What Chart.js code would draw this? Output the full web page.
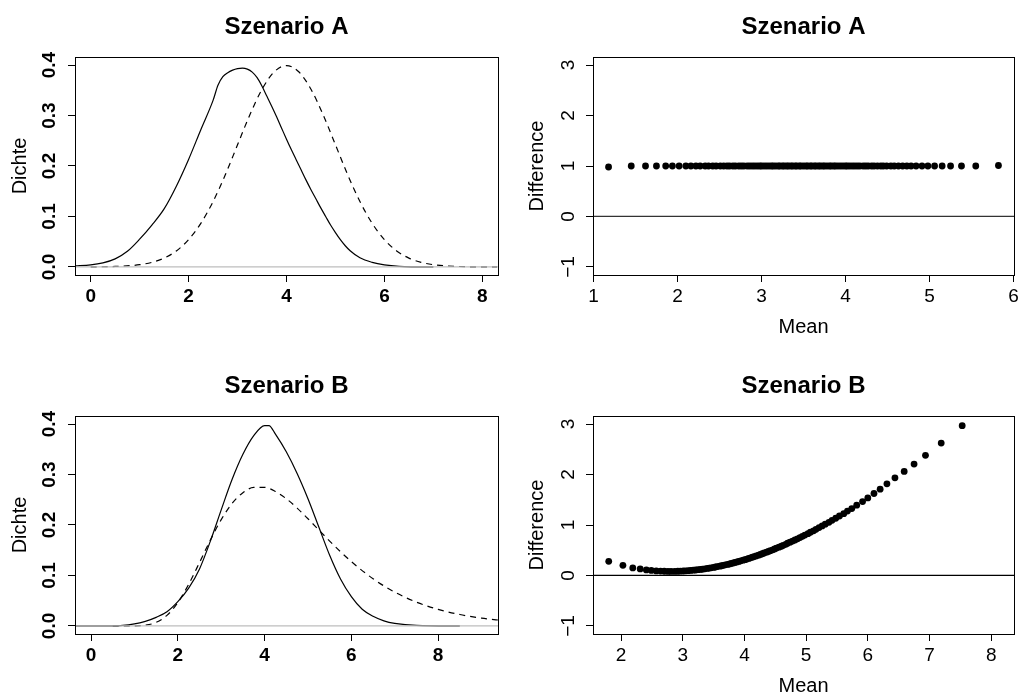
<!DOCTYPE html>
<html>
<head>
<meta charset="utf-8">
<title>Szenario A / Szenario B</title>
<script src="https://cdn.jsdelivr.net/npm/chart.js@4.4.0/dist/chart.umd.min.js"></script>
<style>
  html, body { margin: 0; padding: 0; background: #fff; }
  body { width: 1018px; height: 695px; position: relative; overflow: hidden; }
  canvas { position: absolute; }
  #densA { left: 0; top: 0; }
  #baA { left: 509px; top: 0; }
  #densB { left: 0; top: 359px; }
  #baB { left: 509px; top: 359px; }
</style>
</head>
<body>
<canvas id="densA" width="509" height="348"></canvas>
<canvas id="baA" width="509" height="348"></canvas>
<canvas id="densB" width="509" height="348"></canvas>
<canvas id="baB" width="509" height="348"></canvas>

<script>
// ---- data ----

// Szenario A, density plot
const densTicksA = [0, 2, 4, 6, 8];
const densYTicks = [0, 0.1, 0.2, 0.3, 0.4];
const aSolidX = [-0.33, 0, 0.25, 0.5, 0.75, 1.0, 1.25, 1.5, 1.75, 2.0, 2.25, 2.5, 2.6, 2.7, 2.8, 2.9, 3.0, 3.1, 3.2, 3.3, 3.4, 3.5, 3.6, 3.7, 3.8, 3.9, 4.0, 4.1, 4.2, 4.3, 4.4, 4.5, 4.6, 4.7, 4.8, 4.9, 5.0, 5.1, 5.2, 5.3, 5.5, 5.75, 6.0, 6.3, 6.6, 7.0];
const aSolidY = [0.002, 0.004, 0.008, 0.016, 0.031, 0.055, 0.083, 0.115, 0.16, 0.213, 0.272, 0.33, 0.36, 0.377, 0.385, 0.39, 0.393, 0.394, 0.392, 0.386, 0.375, 0.358, 0.338, 0.318, 0.297, 0.275, 0.253, 0.232, 0.212, 0.192, 0.172, 0.153, 0.135, 0.117, 0.1, 0.083, 0.068, 0.054, 0.042, 0.032, 0.018, 0.009, 0.004, 0.001, 0.0002, 0];
const aDashX = [0, 0.5, 1, 1.25, 1.5, 1.75, 2, 2.25, 2.5, 2.75, 3, 3.25, 3.5, 3.75, 4, 4.25, 4.5, 4.75, 5, 5.25, 5.5, 5.75, 6, 6.25, 6.5, 6.75, 7, 7.5, 8, 8.3];
const aDashY = [0.0001, 0.0009, 0.0044, 0.0091, 0.0175, 0.0317, 0.054, 0.0863, 0.1295, 0.1826, 0.242, 0.3011, 0.3521, 0.3867, 0.3989, 0.3867, 0.3521, 0.3011, 0.242, 0.1826, 0.1295, 0.0863, 0.054, 0.0317, 0.0175, 0.0091, 0.0044, 0.0009, 0.0001, 0.00003];

// Szenario B, density plot
const densTicksB = [0, 2, 4, 6, 8];
const bSolidX = [-0.37, 0.5, 1.0, 1.25, 1.5, 1.75, 2.0, 2.25, 2.5, 2.75, 3.0, 3.25, 3.5, 3.75, 4.0, 4.1, 4.25, 4.5, 4.75, 5.0, 5.25, 5.5, 5.75, 6.0, 6.25, 6.5, 6.75, 7.0, 7.5, 8.5];
const bSolidY = [0, 0, 0.004, 0.009, 0.017, 0.028, 0.048, 0.075, 0.113, 0.168, 0.23, 0.29, 0.34, 0.377, 0.397, 0.397, 0.38, 0.345, 0.302, 0.252, 0.196, 0.14, 0.093, 0.058, 0.033, 0.019, 0.01, 0.005, 0.001, 0];
const bDashX = [0.5, 1.0, 1.25, 1.5, 1.75, 2.0, 2.25, 2.5, 2.75, 3.0, 3.25, 3.5, 3.75, 4.0, 4.25, 4.5, 4.75, 5.0, 5.25, 5.5, 5.75, 6.0, 6.5, 7.0, 7.5, 8.0, 8.5, 9.0, 9.5];
const bDashY = [0, 0.0002, 0.0015, 0.007, 0.0209, 0.0462, 0.0824, 0.1256, 0.1702, 0.2106, 0.2426, 0.264, 0.2744, 0.2746, 0.2665, 0.2521, 0.2335, 0.2123, 0.1902, 0.1682, 0.147, 0.1274, 0.0935, 0.067, 0.0472, 0.0328, 0.0226, 0.0155, 0.0106];

// Szenario A, mean / difference
const baTicksA = [1, 2, 3, 4, 5, 6];
const baYTicks = [-1, 0, 1, 2, 3];
const aMean = [1.18, 1.45, 1.62, 1.75, 1.86, 1.94, 2.02, 2.10, 2.16, 2.22, 2.27, 2.33, 2.37, 2.42, 2.46, 2.51, 2.55, 2.59, 2.62, 2.66, 2.69, 2.73, 2.76, 2.79, 2.83, 2.86, 2.89, 2.92, 2.95, 2.98, 3.00, 3.03, 3.06, 3.09, 3.12, 3.14, 3.17, 3.20, 3.22, 3.25, 3.27, 3.30, 3.32, 3.35, 3.37, 3.40, 3.42, 3.45, 3.47, 3.50, 3.53, 3.55, 3.58, 3.60, 3.63, 3.65, 3.68, 3.70, 3.73, 3.75, 3.78, 3.81, 3.83, 3.86, 3.88, 3.91, 3.94, 3.97, 4.00, 4.02, 4.05, 4.08, 4.11, 4.14, 4.17, 4.21, 4.24, 4.27, 4.31, 4.34, 4.38, 4.42, 4.45, 4.49, 4.54, 4.58, 4.63, 4.68, 4.73, 4.78, 4.84, 4.91, 4.98, 5.06, 5.15, 5.25, 5.38, 5.55, 5.82];
const aDiff = [0.98, 1.0, 1.0, 1.0, 1.0, 1.0, 1.0, 1.0, 1.0, 1.0, 1.0, 1.0, 1.0, 1.0, 1.0, 1.0, 1.0, 1.0, 1.0, 1.0, 1.0, 1.0, 1.0, 1.0, 1.0, 1.0, 1.0, 1.0, 1.0, 1.0, 1.0, 1.0, 1.0, 1.0, 1.0, 1.0, 1.0, 1.0, 1.0, 1.0, 1.0, 1.0, 1.0, 1.0, 1.0, 1.0, 1.0, 1.0, 1.0, 1.0, 1.0, 1.0, 1.0, 1.0, 1.0, 1.0, 1.0, 1.0, 1.0, 1.0, 1.0, 1.0, 1.0, 1.0, 1.0, 1.0, 1.0, 1.0, 1.0, 1.0, 1.0, 1.0, 1.0, 1.0, 1.0, 1.0, 1.0, 1.0, 1.0, 1.0, 1.0, 1.0, 1.0, 1.0, 1.0, 1.0, 1.0, 1.0, 1.0, 1.0, 1.0, 1.0, 1.0, 1.0, 1.0, 1.0, 1.0, 1.0, 1.01];

// Szenario B, mean / difference
const baTicksB = [2, 3, 4, 5, 6, 7, 8];
const bMean = [1.80, 2.03, 2.19, 2.31, 2.41, 2.49, 2.57, 2.64, 2.70, 2.76, 2.81, 2.87, 2.92, 2.96, 3.01, 3.05, 3.09, 3.13, 3.17, 3.21, 3.25, 3.29, 3.32, 3.36, 3.40, 3.43, 3.46, 3.50, 3.53, 3.56, 3.60, 3.63, 3.66, 3.69, 3.73, 3.76, 3.79, 3.82, 3.85, 3.88, 3.91, 3.94, 3.98, 4.01, 4.04, 4.07, 4.10, 4.13, 4.16, 4.19, 4.23, 4.26, 4.29, 4.32, 4.36, 4.39, 4.42, 4.46, 4.49, 4.52, 4.56, 4.60, 4.63, 4.67, 4.70, 4.74, 4.78, 4.82, 4.86, 4.90, 4.94, 4.98, 5.03, 5.07, 5.12, 5.16, 5.21, 5.26, 5.31, 5.37, 5.42, 5.48, 5.54, 5.61, 5.67, 5.74, 5.82, 5.915, 6.0, 6.10, 6.20, 6.31, 6.44, 6.59, 6.75, 6.935, 7.19, 7.53];
const bDiff = [0.28, 0.20, 0.15, 0.13, 0.11, 0.10, 0.09, 0.086, 0.083, 0.081, 0.081, 0.081, 0.083, 0.085, 0.088, 0.091, 0.095, 0.099, 0.104, 0.108, 0.114, 0.120, 0.125, 0.132, 0.139, 0.146, 0.152, 0.160, 0.168, 0.176, 0.184, 0.192, 0.201, 0.210, 0.219, 0.228, 0.238, 0.248, 0.259, 0.269, 0.279, 0.290, 0.302, 0.313, 0.325, 0.337, 0.349, 0.362, 0.375, 0.388, 0.402, 0.416, 0.430, 0.445, 0.461, 0.476, 0.492, 0.508, 0.526, 0.543, 0.560, 0.579, 0.598, 0.618, 0.638, 0.659, 0.681, 0.703, 0.726, 0.750, 0.775, 0.801, 0.828, 0.856, 0.885, 0.915, 0.948, 0.981, 1.016, 1.054, 1.093, 1.134, 1.178, 1.225, 1.275, 1.326, 1.392, 1.465, 1.537, 1.624, 1.71, 1.815, 1.934, 2.062, 2.207, 2.38, 2.624, 2.968];

// axis limits (R style, range + 4%)
const limDensA = { xMin: -0.32, xMax: 8.32, yMin: -0.016, yMax: 0.416 };
const limDensB = { xMin: -0.37, xMax: 9.38, yMin: -0.016, yMax: 0.416 };
const limBaA = { xMin: 0.995, xMax: 6.005, yMin: -1.16, yMax: 3.16 };
const limBaB = { xMin: 1.545, xMax: 8.37, yMin: -1.16, yMax: 3.16 };

// ---- drawing ----
Chart.defaults.font.family = '"Liberation Sans", Arial, Helvetica, sans-serif';
Chart.defaults.color = '#000';

function zip(xs, ys) {
  return xs.map((x, i) => ({ x: x, y: ys[i] }));
}

// R draws a full box around the plot region
const boxPlugin = {
  id: 'rbox',
  afterDraw(chart) {
    const a = chart.chartArea;
    const ctx = chart.ctx;
    ctx.save();
    ctx.strokeStyle = '#000';
    ctx.lineWidth = 1;
    ctx.strokeRect(Math.round(a.left) + 0.5, Math.round(a.top) + 0.5,
      Math.round(a.right - a.left), Math.round(a.bottom - a.top));
    ctx.restore();
  }
};

function lineSet(points, opts) {
  return Object.assign({
    data: points,
    showLine: true,
    pointRadius: 0,
    borderColor: '#000',
    borderWidth: 1.2,
    fill: false,
    cubicInterpolationMode: 'monotone'
  }, opts);
}

function hLine(lim, color, order) {
  return lineSet([{ x: lim.xMin, y: 0 }, { x: lim.xMax, y: 0 }],
    { borderColor: color, borderWidth: 1.3, order: order, cubicInterpolationMode: 'default', tension: 0 });
}

function makePanel(id, cfg) {
  const tickFont = { size: 19, weight: cfg.bold ? 'bold' : 'normal' };
  new Chart(document.getElementById(id), {
    type: 'scatter',
    data: { datasets: cfg.datasets },
    options: {
      responsive: false,
      animation: false,
      events: [],
      layout: { padding: { left: 0, top: 0, bottom: 0, right: cfg.padRight } },
      plugins: {
        legend: { display: false },
        tooltip: { enabled: false },
        title: {
          display: true,
          fullSize: false,
          text: cfg.title,
          color: '#000',
          font: { size: 24, weight: 'bold' },
          padding: { top: 13, bottom: 15.2 }
        }
      },
      scales: {
        x: {
          type: 'linear',
          min: cfg.lim.xMin,
          max: cfg.lim.xMax,
          afterBuildTicks: s => { s.ticks = cfg.xTicks.map(v => ({ value: v })); },
          afterFit: s => { s.height = 73; s.paddingLeft = 0; s.paddingRight = 0; },
          grid: { display: true, drawOnChartArea: false, drawTicks: true, tickLength: 7, color: '#000', lineWidth: 1 },
          border: { display: false },
          ticks: { autoSkip: false, maxRotation: 0, padding: 3, color: '#000', font: tickFont, callback: v => String(v) },
          title: { display: !!cfg.xTitle, text: cfg.xTitle || '', color: '#000', font: { size: 20 }, padding: { top: 0, bottom: 9 } }
        },
        y: {
          type: 'linear',
          min: cfg.lim.yMin,
          max: cfg.lim.yMax,
          afterBuildTicks: s => { s.ticks = cfg.yTicks.map(v => ({ value: v })); },
          afterFit: s => { s.width = cfg.yWidth; s.paddingTop = 0; s.paddingBottom = 0; },
          grid: { display: true, drawOnChartArea: false, drawTicks: true, tickLength: 7, color: '#000', lineWidth: 1 },
          border: { display: false },
          ticks: {
            autoSkip: false, minRotation: 90, maxRotation: 90, crossAlign: 'center',
            padding: cfg.yTickPad, color: '#000', font: tickFont, callback: cfg.yFmt
          },
          title: { display: true, text: cfg.yTitle, color: '#000', font: { size: 20 }, padding: { top: cfg.yTitlePad, bottom: 0 } }
        }
      }
    },
    plugins: [boxPlugin]
  });
}

const fmtDens = v => v.toFixed(1);
const fmtDiff = v => (v < 0 ? '\u2212' + Math.abs(v) : String(v));

makePanel('densA', {
  title: 'Szenario A', yTitle: 'Dichte', bold: true, lim: limDensA,
  xTicks: densTicksA, yTicks: densYTicks, yFmt: fmtDens,
  yWidth: 75, padRight: 11, yTickPad: 5, yTitlePad: 8,
  datasets: [
    hLine(limDensA, '#bebebe', 0),
    lineSet(zip(aSolidX, aSolidY), { order: 1 }),
    lineSet(zip(aDashX, aDashY), { order: 2, borderDash: [6, 5] })
  ]
});

makePanel('baA', {
  title: 'Szenario A', yTitle: 'Difference', xTitle: 'Mean', bold: false, lim: limBaA,
  xTicks: baTicksA, yTicks: baYTicks, yFmt: fmtDiff,
  yWidth: 84, padRight: 2, yTickPad: 6.5, yTitlePad: 16,
  datasets: [
    { data: zip(aMean, aDiff), pointRadius: 3.4, backgroundColor: '#000', borderWidth: 0, showLine: false, order: 0 },
    hLine(limBaA, '#333', 1)
  ]
});

makePanel('densB', {
  title: 'Szenario B', yTitle: 'Dichte', bold: true, lim: limDensB,
  xTicks: densTicksB, yTicks: densYTicks, yFmt: fmtDens,
  yWidth: 75, padRight: 11, yTickPad: 5, yTitlePad: 8,
  datasets: [
    hLine(limDensB, '#bebebe', 0),
    lineSet(zip(bSolidX, bSolidY), { order: 1 }),
    lineSet(zip(bDashX, bDashY), { order: 2, borderDash: [6, 5] })
  ]
});

makePanel('baB', {
  title: 'Szenario B', yTitle: 'Difference', xTitle: 'Mean', bold: false, lim: limBaB,
  xTicks: baTicksB, yTicks: baYTicks, yFmt: fmtDiff,
  yWidth: 84, padRight: 2, yTickPad: 6.5, yTitlePad: 16,
  datasets: [
    { data: zip(bMean, bDiff), pointRadius: 3.4, backgroundColor: '#000', borderWidth: 0, showLine: false, order: 0 },
    hLine(limBaB, '#000', 1)
  ]
});
</script>
</body>
</html>
